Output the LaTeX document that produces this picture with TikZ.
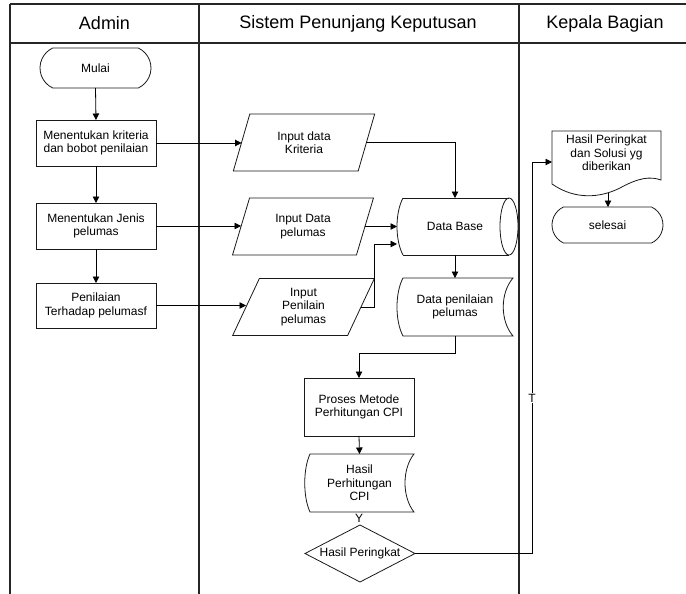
\documentclass[tikz,border=0pt]{standalone}
\usepackage{fontspec}
\setmainfont{Liberation Sans}
\usetikzlibrary{shapes.geometric,shapes.misc,arrows.meta,calc}
\begin{document}
\begin{tikzpicture}[x=1pt,y=-1pt,
  every node/.style={font=\fontsize{12}{13.5}\selectfont, inner sep=0pt, outer sep=0pt, align=center},
  frame/.style={line width=1.1pt, draw=black!85},
  shp/.style={draw=black!90, line width=0.8pt},
  term/.style={shp, rounded rectangle, rounded rectangle arc length=130, minimum width=111pt, minimum height=40pt},
  procbox/.style={shp, rectangle, minimum width=120pt, minimum height=46pt},
  io/.style={shp, trapezium, trapezium left angle=70, trapezium right angle=110, trapezium stretches=true, minimum width=142pt, minimum height=57pt},
  dec/.style={shp, diamond, aspect=1.9, minimum width=110pt, minimum height=57pt},
  ghost/.style={rectangle},
  arr/.style={draw=black, line width=0.8pt, -{Triangle[length=6.5pt,width=6.5pt]}},
  ln/.style={draw=black, line width=0.8pt},
  head/.style={font=\fontsize{18}{20}\selectfont}
]
\useasboundingbox (0,0) rectangle (686,594);
% frame
\draw[frame] (10,4) -- (686,4);
\draw[frame] (10,43) -- (686,43);
\draw[frame] (10,4) -- (10,594);
\draw[frame] (199,4) -- (199,594);
\draw[frame] (519,4) -- (519,594);
\node[head] (hadmin) at (104.5,23.5) {Admin};
\node[head] (hspk) at (358,23.5) {Sistem Penunjang Keputusan};
\node[head] (hkb) at (605,23.5) {Kepala Bagian};

% admin lane
\node[term] (mulai) at (95.5,68) {Mulai};
\node[procbox] (b1) at (96,143) {Menentukan kriteria\\dan bobot penilaian};
\node[procbox] (b2) at (96,226) {Menentukan Jenis\\pelumas};
\node[procbox, minimum height=45pt] (b3) at (96,305.5) {Penilaian\\Terhadap pelumasf};

% system lane
\node[io] (in1) at (304,142.5) {Input data\\Kriteria};
\node[io] (in2) at (303,226.5) {Input Data\\pelumas};
\node[io] (in3) at (303.5,307) {Input\\Penilain\\pelumas};
\node[ghost, minimum width=116pt, minimum height=57pt] (db) at (455,226.5) {Data Base};
\node[ghost, minimum width=116pt, minimum height=58pt] (dp) at (455,307) {Data penilaian\\pelumas};
\node[procbox, minimum width=110pt, minimum height=58pt] (proc) at (359,407) {Proses Metode\\Perhitungan CPI};
\node[ghost, minimum width=109pt, minimum height=58pt] (hp) at (359.5,483) {Hasil\\Perhitungan\\CPI};
\node[dec] (dia) at (360,553.5) {Hasil Peringkat};
\node (ylab) at (359,518.5) {Y};

% kepala bagian lane
\node[ghost, minimum width=109pt, minimum height=44pt] (doc) at (606.5,153) {Hasil Peringkat\\dan Solusi yg\\diberikan};
\node[term, minimum height=36pt] (sel) at (607.5,225) {selesai};

% outlines drawn directly
% Data Base (direct access storage)
\draw[shp] (403,198) -- (509,198);
\draw[shp] (403,255) -- (509,255);
\draw[shp] (509,226.5) ellipse [x radius=9, y radius=28.5];
\draw[shp] (403,198) .. controls (395,213) and (395,240) .. (403,255);
% Data penilaian pelumas (stored data)
\draw[shp] (403,278) -- (513,278) .. controls (500,293) and (500,321) .. (513,336) -- (403,336) .. controls (395,321) and (395,293) .. (403,278) -- cycle;
% Hasil Perhitungan CPI (stored data)
\draw[shp] (310,454) -- (414,454) .. controls (402,469) and (402,497) .. (414,512) -- (310,512) .. controls (303,497) and (303,469) .. (310,454) -- cycle;
% document
\draw[shp] (552,184) -- (552,131) -- (661,131) -- (661,180) .. controls (650,176) and (638,178) .. (620,188) .. controls (600,198) and (575,200) .. (552,184) -- cycle;

% connectors
\draw[arr] (mulai.south) -- (b1.north);
\draw[arr] (b1.south) -- (b2.north);
\draw[arr] (b2.south) -- (b3.north);
\draw[arr] (b1.east) -- (b1.east -| in1.west);
\draw[arr] (b2.east) -- (b2.east -| in2.west);
\draw[arr] (b3.east) -- (b3.east -| in3.west);
\draw[arr] (in1.east) -| (db.north);
\draw[arr] (in2.east) -- (db.west);
\draw[arr] (in3.east) -- ++(13,0) |- ([yshift=-17.5pt]db.west);
\draw[arr] (db.south) -- (dp.north);
\draw[arr] (dp.south) -- ++(0,17) -| (proc.north);
\draw[arr] (proc.south) -- (hp.north);
\coordinate (tturn) at (532,162);
\draw[arr] (dia.east) -| (tturn) -- (doc.west |- tturn);
\node[fill=white, inner sep=1pt] (tlab) at (532,398) {T};
\coordinate (docbot) at (608,192.5);
\draw[arr] (docbot) -- (docbot |- sel.north);
\end{tikzpicture}
\end{document}
